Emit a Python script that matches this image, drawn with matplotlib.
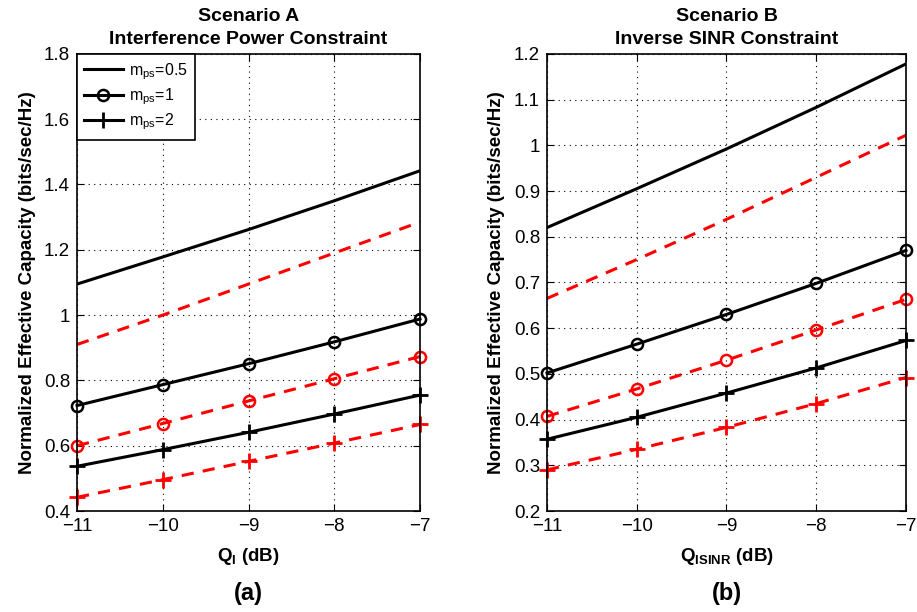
import matplotlib
matplotlib.use('Agg')
import matplotlib.pyplot as plt

plt.rcParams['font.family'] = ['Liberation Sans', 'DejaVu Sans']
plt.rcParams['mathtext.fontset'] = 'custom'
plt.rcParams['mathtext.rm'] = 'Liberation Sans'
plt.rcParams['mathtext.bf'] = 'Liberation Sans:bold'

q = [-11, -10, -9, -8, -7]

# Scenario A - interference power constraint
a_black_05 = [1.095, 1.178, 1.262, 1.350, 1.442]
a_red_05 = [0.910, 1.000, 1.095, 1.190, 1.285]
a_black_1 = [0.723, 0.787, 0.851, 0.918, 0.988]
a_red_1 = [0.600, 0.668, 0.737, 0.805, 0.873]
a_black_2 = [0.537, 0.588, 0.641, 0.697, 0.755]
a_red_2 = [0.442, 0.496, 0.552, 0.608, 0.665]

# Scenario B - inverse SINR constraint
b_black_05 = [0.820, 0.905, 0.992, 1.083, 1.178]
b_red_05 = [0.665, 0.750, 0.838, 0.930, 1.022]
b_black_1 = [0.502, 0.565, 0.630, 0.698, 0.770]
b_red_1 = [0.407, 0.467, 0.530, 0.596, 0.663]
b_black_2 = [0.357, 0.405, 0.458, 0.513, 0.573]
b_red_2 = [0.290, 0.335, 0.383, 0.435, 0.492]

fig = plt.figure(figsize=(9.17, 6.12), dpi=100)
ax1 = fig.add_axes([0.084, 0.165, 0.374, 0.747])
ax2 = fig.add_axes([0.5965, 0.165, 0.3915, 0.747])


def draw(ax, blk, red, ylim, yticks, yticklabels, title, xlab, tag):
    lw = 2.2
    ax.plot(q, blk[0], 'k-', lw=lw, label='$\\mathregular{m_{ps}}$=0.5')
    ax.plot(q, red[0], '--', color='red', lw=lw, dashes=(4, 3))
    ax.plot(q, blk[1], 'k-', lw=lw, marker='o', ms=8, mfc='none', mew=1.8,
            label='$\\mathregular{m_{ps}}$=1', clip_on=False)
    ax.plot(q, red[1], '--', color='red', lw=lw, dashes=(4, 3), marker='o',
            ms=8, mfc='none', mew=1.8, clip_on=False)
    ax.plot(q, blk[2], 'k-', lw=lw, marker='+', ms=11, mew=2,
            label='$\\mathregular{m_{ps}}$=2', clip_on=False)
    ax.plot(q, red[2], '--', color='red', lw=lw, dashes=(4, 3), marker='+',
            ms=11, mew=2, clip_on=False)
    ax.set_xlim(-11, -7)
    ax.set_ylim(*ylim)
    ax.set_xticks(q)
    ax.set_xticklabels(['\u221211', '\u221210', '\u22129', '\u22128', '\u22127'])
    ax.set_yticks(yticks)
    ax.set_yticklabels(yticklabels)
    ax.tick_params(direction='in', labelsize=13.5, length=5, top=True,
                   right=True, pad=5)
    ax.grid(True, linestyle=(0, (1, 4)), color='black', lw=0.8)
    for s in ax.spines.values():
        s.set_linewidth(1.2)
    ax.set_title(title, fontsize=14, fontweight='bold', pad=7,
                 linespacing=1.45)
    ax.set_xlabel(xlab, fontsize=13.5, fontweight='bold', labelpad=8)
    ax.set_ylabel('Normalized Effective Capacity (bits/sec/Hz)', fontsize=13.5,
                  fontweight='bold', labelpad=6)
    ax.text(0.5, -0.155, tag, transform=ax.transAxes, ha='center', va='top',
            fontsize=17, fontweight='bold')


draw(ax1, [a_black_05, a_black_1, a_black_2], [a_red_05, a_red_1, a_red_2],
     (0.4, 1.8), [0.4, 0.6, 0.8, 1.0, 1.2, 1.4, 1.6, 1.8],
     ['0.4', '0.6', '0.8', '1', '1.2', '1.4', '1.6', '1.8'],
     'Scenario A\nInterference Power Constraint',
     '$\\mathbf{Q_I}$ (dB)', '(a)')
draw(ax2, [b_black_05, b_black_1, b_black_2], [b_red_05, b_red_1, b_red_2],
     (0.2, 1.2), [0.2, 0.3, 0.4, 0.5, 0.6, 0.7, 0.8, 0.9, 1.0, 1.1, 1.2],
     ['0.2', '0.3', '0.4', '0.5', '0.6', '0.7', '0.8', '0.9', '1', '1.1', '1.2'],
     'Scenario B\nInverse SINR Constraint',
     '$\\mathbf{Q_{ISINR}}$ (dB)', '(b)')

leg = ax1.legend(loc='upper left', fontsize=11.5, handlelength=2.4,
                 handletextpad=0.4, borderaxespad=0, fancybox=False,
                 edgecolor='black', framealpha=1, labelspacing=0.3,
                 borderpad=0.45)
leg.get_frame().set_linewidth(1.2)

fig.savefig('out.png', dpi=100)
